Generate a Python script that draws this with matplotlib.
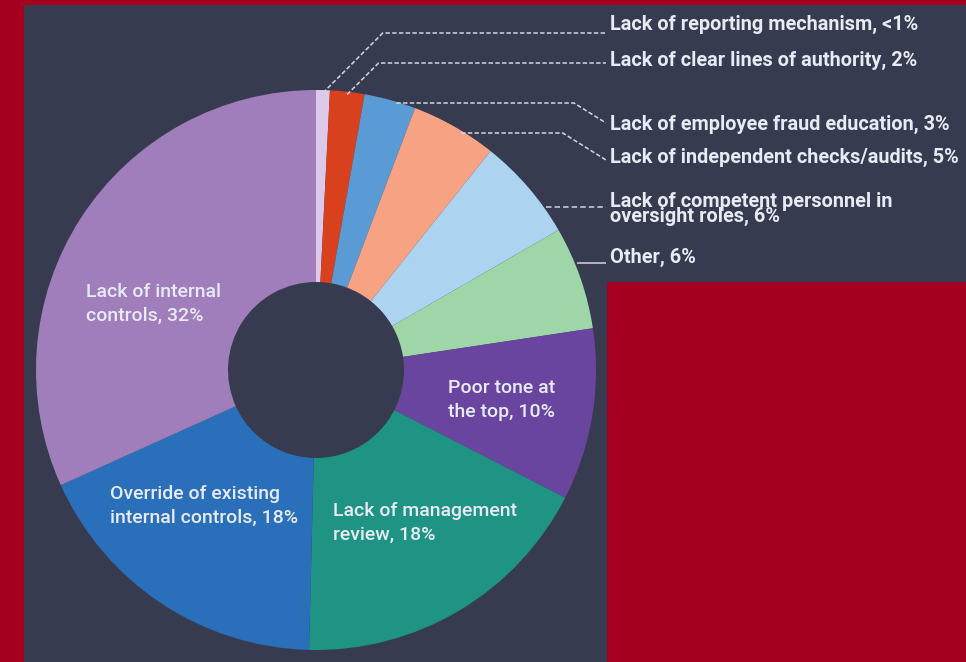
import matplotlib
matplotlib.use("Agg")
import matplotlib.pyplot as plt
from matplotlib.patches import Rectangle
from matplotlib import font_manager
import numpy as np

# ---------------- data ----------------
categories = [
    "Lack of reporting mechanism",
    "Lack of clear lines of authority",
    "Lack of employee fraud education",
    "Lack of independent checks/audits",
    "Lack of competent personnel in\noversight roles",
    "Other",
    "Poor tone at\nthe top",
    "Lack of management\nreview",
    "Override of existing\ninternal controls",
    "Lack of internal\ncontrols",
]
values = [0.8, 2, 3, 5, 6, 6, 10, 18, 18, 32]
value_labels = ["<1%", "2%", "3%", "5%", "6%", "6%", "10%", "18%", "18%", "32%"]
colors = ["#dcc8e8", "#d8401e", "#5b9bd5", "#f7a283", "#acd4f0",
          "#9ed6a8", "#6a45a0", "#1f9484", "#2a6fba", "#a07ebb"]

# ---------------- layout ----------------
W, H = 966, 662
RED = "#a50020"
NAVY = "#373b4f"
TXT = "#e8eaf4"
LINE = "#d4d7e0"
CX, CY, R, HOLE = 316, 370, 280, 88

avail = {f.name for f in font_manager.fontManager.ttflist}
fam = [f for f in ["Liberation Sans Narrow", "Roboto", "DejaVu Sans"] if f in avail]
plt.rcParams["font.family"] = fam

fig = plt.figure(figsize=(W / 100, H / 100), dpi=100, facecolor=RED)
ax = fig.add_axes([0, 0, 1, 1])


def Y(p):
    return H - p


ax.add_patch(Rectangle((24, 0), W - 24, H - 5, facecolor=NAVY, edgecolor="none", zorder=0))
ax.add_patch(Rectangle((607, 0), W - 607, H - 282, facecolor=RED, edgecolor="none", zorder=0.5))

wedges, _ = ax.pie(values, colors=colors, startangle=90, counterclock=False,
                   center=(CX, Y(CY)), radius=R,
                   wedgeprops=dict(width=R - HOLE, linewidth=0))
ax.set_xlim(0, W)
ax.set_ylim(0, H)
ax.set_aspect("equal")
ax.axis("off")

total = sum(values)
cum = np.cumsum([0] + values)
mid_angles = [90 - (cum[i] + values[i] / 2) / total * 360 for i in range(len(values))]

# outside labels (first six slices)
label_y = [24, 60, 124, 157, 209, 257]
level_y = [33, 63, 103, 133, 207, 263]
end_y = [33, 63, 123, 160, 207, 263]
X_END = 606
X_TXT = 610
dash = (0, (2.9, 1.5))
for i in range(6):
    txt = f"{categories[i]}, {value_labels[i]}"
    ax.text(X_TXT, Y(label_y[i]), txt, ha="left", va="center", color=TXT,
            fontsize=14.3, fontweight="bold", linespacing=0.78, zorder=5)
    lv = level_y[i]
    if i < 2:
        a = np.deg2rad(mid_angles[i])
        sx = CX + R * 0.99 * np.cos(a)
        sy = CY - R * 0.99 * np.sin(a)
        ex = sx + (sy - lv)
        xs = [sx, ex, X_END]
        ys = [sy, lv, lv]
    elif i < 4:
        sx = CX + np.sqrt(R ** 2 - (CY - lv) ** 2) - 4
        bx = X_END - (end_y[i] - lv) * 1.6
        xs = [sx, bx, X_END]
        ys = [lv, lv, end_y[i]]
    else:
        sx = CX + np.sqrt(R ** 2 - (CY - lv) ** 2) + 2
        xs = [sx, X_END]
        ys = [lv, lv]
    ls = "-" if i == 5 else ((0, (3.6, 2.0)) if i == 4 else dash)
    ax.plot(xs, [Y(v) for v in ys], color=LINE, lw=1.1, linestyle=ls,
            solid_capstyle="butt", zorder=4)

# inside labels
inside = {6: (448, 400), 7: (333, 523), 8: (110, 506), 9: (86, 304)}
for i, (x, y) in inside.items():
    ax.text(x, Y(y), f"{categories[i]}, {value_labels[i]}", ha="left", va="center",
            color=TXT, fontsize=14, fontweight="medium", linespacing=1.4, zorder=5)

fig.savefig("out.png", dpi=100, facecolor=RED)
